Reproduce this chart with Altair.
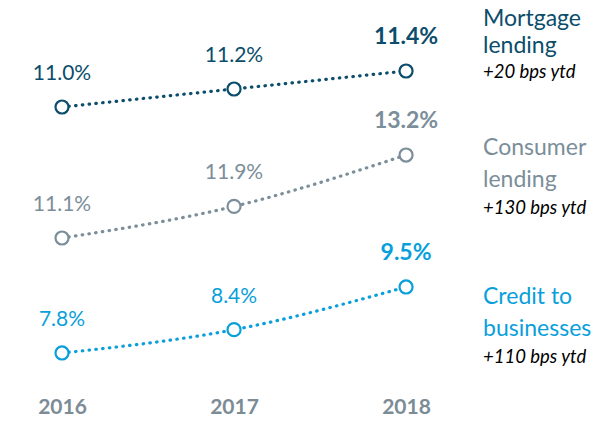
import altair as alt
import pandas as pd

years = [2016, 2017, 2018]
mortgage = [11.0, 11.2, 11.4]
consumer = [11.1, 11.9, 13.2]
credit = [7.8, 8.4, 9.5]
name_lines = [["Mortgage", "lending"], ["Consumer", "lending"], ["Credit to", "businesses"]]
ytd_notes = ["+20 bps ytd", "+130 bps ytd", "+110 bps ytd"]

FONT = "Lato"
X_DOMAIN = [2015.686, 2019.081]

x_enc = alt.X(
    "year:Q",
    scale=alt.Scale(domain=X_DOMAIN, nice=False, zero=False),
    axis=alt.Axis(
        values=years, format="d", title=None, domain=False, ticks=False, grid=False,
        labelFont=FONT, labelFontSize=21, labelFontWeight="bold", labelColor="#7C8C96",
        labelPadding=0,
    ),
)


def series_layer(values, lines, note, color, y_domain, name_dy, note_dy):
    df = pd.DataFrame({
        "year": years,
        "value": values,
        "label": [f"{v:.1f}%" for v in values],
    })
    y_enc = alt.Y("value:Q", scale=alt.Scale(domain=y_domain, nice=False, zero=False), axis=None)
    base = alt.Chart(df).encode(x=x_enc, y=y_enc)
    line = base.mark_line(
        color=color, strokeWidth=3.2, strokeDash=[0.5, 6.3], strokeCap="round", interpolate="monotone"
    )
    pts = base.mark_point(
        shape="circle", filled=True, fill="white", stroke=color, strokeWidth=2.2, size=170, opacity=1
    )
    lbl = base.transform_filter(alt.datum.year < 2018).mark_text(
        font=FONT, fontSize=21, color=color, dy=-33, baseline="middle"
    ).encode(text="label:N")
    last = base.transform_filter(alt.datum.year == 2018)
    lbl_last = last.mark_text(
        font=FONT, fontSize=23, fontWeight="bold", color=color, dy=-34, baseline="middle"
    ).encode(text="label:N")
    layers = [line, pts, lbl, lbl_last]
    for txt, d in zip(lines, name_dy):
        layers.append(
            last.mark_text(
                font=FONT, fontSize=23, color=color, align="left", dx=77, dy=d, baseline="middle"
            ).encode(text=alt.value(txt))
        )
    layers.append(
        last.mark_text(
            font=FONT, fontSize=18.5, fontStyle="italic", color="#000000", align="left", dx=77,
            dy=note_dy, baseline="middle"
        ).encode(text=alt.value(note))
    )
    return alt.layer(*layers)


s1 = series_layer(mortgage, name_lines[0], ytd_notes[0], "#0B4D6B", [7.789, 12.1], [-52, -25], 1)
s2 = series_layer(consumer, name_lines[1], ytd_notes[1], "#7B8E99", [7.102, 16.92], [-7, 25], 53)
s3 = series_layer(credit, name_lines[2], ytd_notes[2], "#0A9FDB", [6.692, 16.687], [10, 42], 70)

chart = (
    alt.layer(s1, s2, s3)
    .resolve_scale(y="independent")
    .properties(
        width=584, height=388, autosize="none",
        padding={"left": 0, "top": 0, "right": 0, "bottom": 21},
        background="white",
    )
    .configure_view(stroke=None)
)

chart.save("out.html", embed_options={"renderer": "svg", "actions": False})
